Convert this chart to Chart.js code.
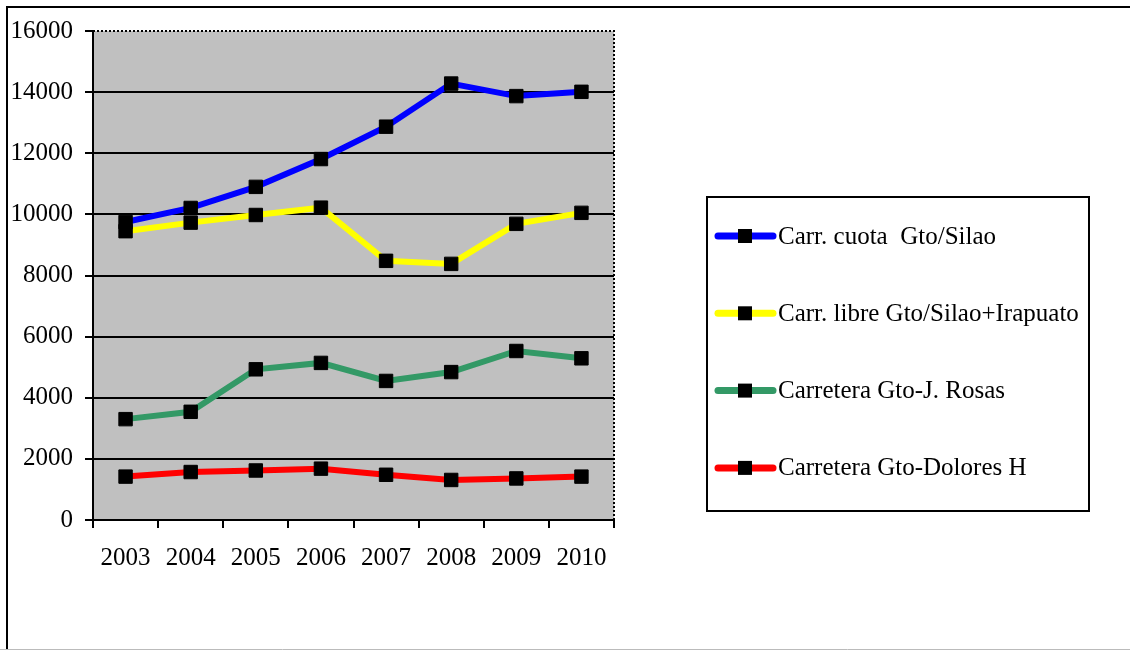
<!DOCTYPE html>
<html>
<head>
<meta charset="utf-8">
<script src="https://cdn.jsdelivr.net/npm/chart.js@4/dist/chart.umd.min.js"></script>
<style>
html,body{margin:0;padding:0;background:#fff;}
#wrap{position:relative;width:1130px;height:650px;}
</style>
</head>
<body>
<div id="wrap"><canvas id="c" width="1130" height="650"></canvas></div>
<script>
const years = ['2003','2004','2005','2006','2007','2008','2009','2010'];
const cuotaSilao = [9750, 10210, 10900, 11810, 12870, 14280, 13870, 14010];
const libreSilaoIrapuato = [9450, 9730, 9980, 10220, 8480, 8380, 9690, 10050];
const gtoJRosas = [3300, 3540, 4930, 5140, 4550, 4840, 5530, 5290];
const gtoDoloresH = [1420, 1570, 1620, 1680, 1480, 1310, 1360, 1420];
const seriesLabels = ['Carr. cuota  Gto/Silao', 'Carr. libre Gto/Silao+Irapuato', 'Carretera Gto-J. Rosas', 'Carretera Gto-Dolores H'];
const seriesColors = ['#0000FF', '#FFFF00', '#339966', '#FF0000'];
const yTicks = [0, 2000, 4000, 6000, 8000, 10000, 12000, 14000, 16000];

const FONT = '"Liberation Serif", "Times New Roman", serif';

const frame = {
  id: 'frame',
  beforeDraw(chart) {
    const ctx = chart.ctx, a = chart.chartArea;
    ctx.save();
    ctx.fillStyle = '#fff';
    ctx.fillRect(0, 0, chart.width, chart.height);
    ctx.fillStyle = '#C0C0C0';
    ctx.fillRect(a.left, a.top, a.right - a.left, a.bottom - a.top);
    ctx.restore();
  },
  afterDraw(chart) {
    const ctx = chart.ctx, a = chart.chartArea;
    ctx.save();
    ctx.strokeStyle = '#000';
    ctx.lineWidth = 2;
    ctx.beginPath();
    ctx.moveTo(7, 650); ctx.lineTo(7, 7); ctx.lineTo(1130, 7);
    ctx.stroke();
    ctx.strokeStyle = '#bbbbbb';
    ctx.lineWidth = 1;
    ctx.beginPath();
    ctx.moveTo(0, 649.5); ctx.lineTo(1130, 649.5);
    ctx.stroke();
    ctx.strokeStyle = '#000';
    ctx.lineWidth = 2;
    ctx.setLineDash([2, 2]);
    ctx.beginPath();
    ctx.moveTo(a.left, a.top); ctx.lineTo(a.right, a.top); ctx.lineTo(a.right, a.bottom);
    ctx.stroke();
    ctx.setLineDash([]);
    const lx = 707, ly = 197, lw = 382, lh = 314;
    ctx.lineWidth = 2;
    ctx.strokeRect(lx, ly, lw, lh);
    ctx.font = '25px ' + FONT;
    ctx.textBaseline = 'middle';
    ctx.textAlign = 'left';
    chart.data.datasets.forEach((ds, i) => {
      const y = ly + 39 + i * 77.3;
      ctx.strokeStyle = ds.borderColor;
      ctx.lineWidth = 7;
      ctx.lineCap = 'round';
      ctx.beginPath();
      ctx.moveTo(718, y); ctx.lineTo(773, y);
      ctx.stroke();
      ctx.fillStyle = '#000';
      ctx.fillRect(738, y - 7, 14, 14);
      ctx.fillText(ds.label, 778, y + 1);
    });
    ctx.restore();
  }
};

const datasetsData = [cuotaSilao, libreSilaoIrapuato, gtoJRosas, gtoDoloresH];

new Chart(document.getElementById('c'), {
  type: 'line',
  data: {
    labels: years,
    datasets: datasetsData.map((d, i) => ({
      label: seriesLabels[i],
      data: d,
      borderColor: seriesColors[i],
      borderWidth: 6,
      pointStyle: 'rect',
      pointRadius: 9.5,
      pointBackgroundColor: '#000',
      pointBorderColor: '#000',
      pointBorderWidth: 1,
      tension: 0,
      fill: false
    }))
  },
  options: {
    responsive: false,
    animation: false,
    devicePixelRatio: 1,
    layout: { padding: { top: 31, right: 516, bottom: 0, left: 0 } },
    plugins: { legend: { display: false }, tooltip: { enabled: false } },
    scales: {
      x: {
        offset: true,
        grid: { offset: true, drawOnChartArea: false, drawTicks: true, tickLength: 8, color: '#000', lineWidth: 2 },
        border: { display: true, color: '#000', width: 2 },
        ticks: { color: '#000', font: { family: FONT, size: 25 }, padding: 15, maxRotation: 0 },
        afterFit(s) { s.height = 130; }
      },
      y: {
        min: 0, max: 16000,
        afterBuildTicks(s) { s.ticks = yTicks.map(v => ({ value: v })); },
        grid: {
          color: (c) => (c.tick && c.tick.value === 16000) ? 'rgba(0,0,0,0)' : '#000',
          tickColor: '#000',
          lineWidth: 2, drawTicks: true, tickLength: 8
        },
        border: { display: true, color: '#000', width: 2 },
        ticks: { color: '#000', font: { family: FONT, size: 25 }, padding: 12, callback: (v) => String(v) },
        afterFit(s) { s.width = 93; }
      }
    }
  },
  plugins: [frame]
});
</script>
</body>
</html>
